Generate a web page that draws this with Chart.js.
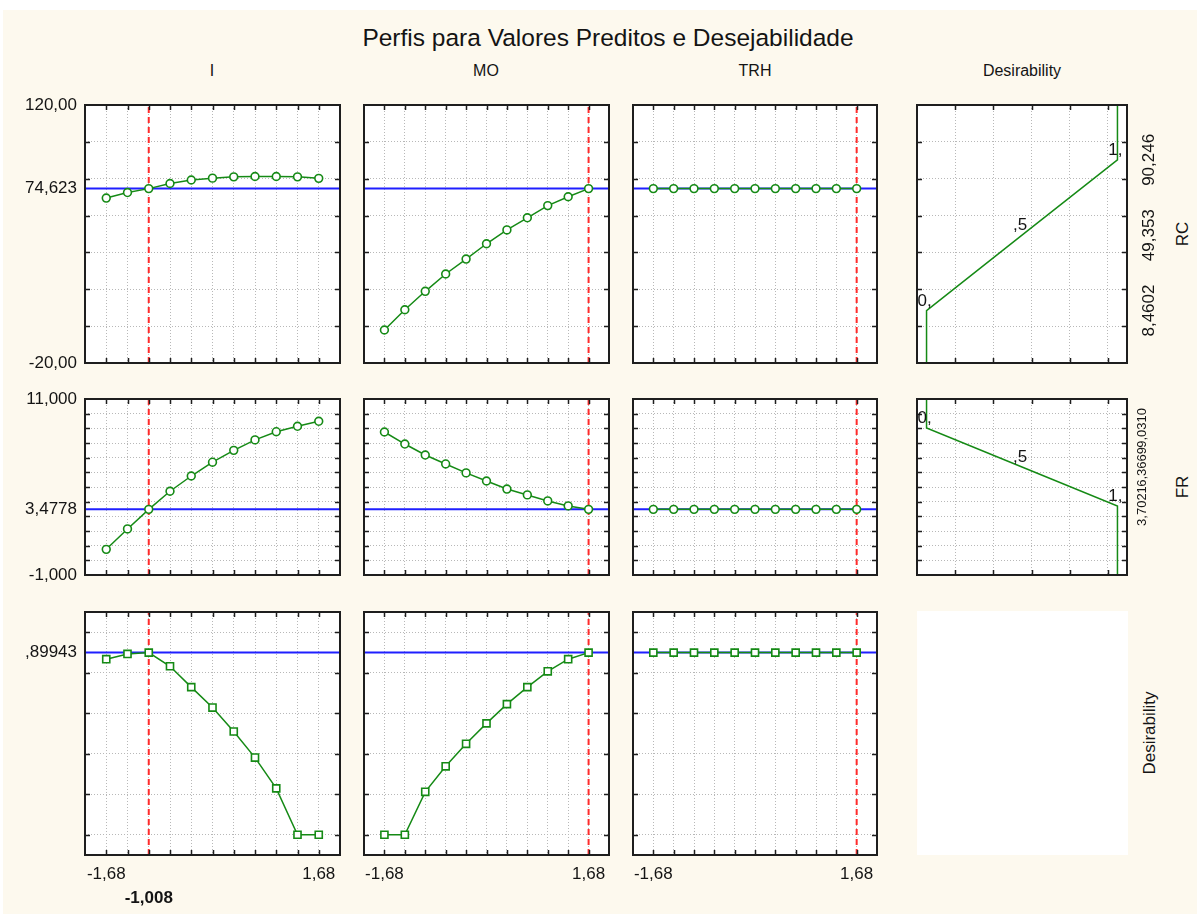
<!DOCTYPE html>
<html>
<head>
<meta charset="utf-8">
<script src="https://cdn.jsdelivr.net/npm/chart.js@4.4.0/dist/chart.umd.min.js"></script>
<style>
html, body { margin: 0; padding: 0; background: #fff; overflow: hidden; }
#wrap { position: relative; width: 1197px; height: 914px; overflow: hidden; }
#bg { position: absolute; left: 3px; top: 10px; right: 0; bottom: 0; background: #fdf9ee; }
.txt { position: absolute; font-family: "Liberation Sans", Arial, sans-serif; color: #141414;
       white-space: nowrap; transform: translate(-50%, -50%); }
.rot { transform: translate(-50%, -50%) rotate(-90deg); }
canvas { position: absolute; }
#blank { position: absolute; left: 917px; top: 611px; width: 211px; height: 244px; background: #fff; }
</style>
</head>
<body>
<div id="wrap">
  <div id="bg"></div>
  <div id="blank"></div>
  <div class="txt" style="left:608px;top:38px;font-size:24.5px;">Perfis para Valores Preditos e Desejabilidade</div>
  <div class="txt" style="left:212px;top:71px;font-size:16px;">I</div>
  <div class="txt" style="left:486px;top:71px;font-size:16px;">MO</div>
  <div class="txt" style="left:755px;top:71px;font-size:16px;">TRH</div>
  <div class="txt" style="left:1022px;top:71px;font-size:16px;">Desirability</div>
  <div class="txt rot" style="left:1183px;top:234px;font-size:17px;">RC</div>
  <div class="txt rot" style="left:1183px;top:487px;font-size:17px;">FR</div>
  <div class="txt rot" style="left:1150px;top:733px;font-size:17px;">Desirability</div>
</div>
<script>
// Factor levels (coded) and tick labels
const xLevels = [-1.68, -1.344, -1.008, -0.672, -0.336, 0, 0.336, 0.672, 1.008, 1.344, 1.68];
const xEndTicks = [-1.68, 1.68];
const xEndLabels = ['-1,68', '1,68'];
const currentX = [-1.008, 1.68, 1.68];   // I, MO, TRH
const currentXLabel = '-1,008';

// RC
const rcRange = [-20, 120];
const rcGrid = [0, 20, 40, 60, 80, 100];
const rcCurrent = 74.623;
const rcLeftTicks = [120, 74.623, -20];
const rcLeftLabels = ['120,00', '74,623', '-20,00'];
const rcI = [69.5, 72.5, 74.623, 77.4, 79.3, 80.3, 81.0, 81.2, 81.2, 81.0, 80.2];
const rcMO = [-2.1, 8.9, 18.9, 28.3, 36.4, 44.7, 52.2, 58.8, 65.4, 70.2, 74.623];
const rcTRH = [74.623, 74.623, 74.623, 74.623, 74.623, 74.623, 74.623, 74.623, 74.623, 74.623, 74.623];
const rcDesTicks = [8.4602, 49.353, 90.246];
const rcDesLabels = ['8,4602', '49,353', '90,246'];
const rcDesD = [0, 0, 0.5, 1, 1];
const rcDesV = [-20, 8.4602, 49.353, 90.246, 120];

// FR
const frRange = [-1, 11];
const frGrid = [0, 1, 2, 3, 4, 5, 6, 7, 8, 9, 10];
const frCurrent = 3.4778;
const frLeftTicks = [11, 3.4778, -1];
const frLeftLabels = ['11,000', '3,4778', '-1,000'];
const frI = [0.75, 2.14, 3.4778, 4.71, 5.75, 6.69, 7.50, 8.21, 8.77, 9.14, 9.48];
const frMO = [8.75, 7.93, 7.18, 6.57, 5.96, 5.41, 4.86, 4.46, 4.05, 3.71, 3.4778];
const frTRH = [3.4778, 3.4778, 3.4778, 3.4778, 3.4778, 3.4778, 3.4778, 3.4778, 3.4778, 3.4778, 3.4778];
const frDesTicks = [3.7021, 6.3669, 9.0310];
const frDesLabels = ['3,7021', '6,3669', '9,0310'];
const frDesD = [0, 0, 0.5, 1, 1];
const frDesV = [11, 9.0310, 6.3669, 3.7021, -1];

// Desirability
const desRange = [-0.1, 1.1];
const desGrid = [0, 0.2, 0.4, 0.6, 0.8, 1.0];
const desCurrent = 0.89943;
const desLeftTicks = [0.89943];
const desLeftLabels = [',89943'];
const desI = [0.867, 0.893, 0.89943, 0.832, 0.729, 0.628, 0.510, 0.381, 0.229, 0, 0];
const desMO = [0, 0, 0.212, 0.338, 0.449, 0.550, 0.645, 0.729, 0.807, 0.867, 0.89943];
const desTRH = [0.89943, 0.89943, 0.89943, 0.89943, 0.89943, 0.89943, 0.89943, 0.89943, 0.89943, 0.89943, 0.89943];

// desirability scale (x of last column)
const dRange = [-0.05, 1.05];
const dGrid = [0.15, 0.35, 0.55, 0.75, 0.95];
const dPointLabels = ['', '0,', ',5', '1,', ''];

// Layout
const COLS = [[85, 340], [364, 609], [633, 877], [917, 1127]];
const ROWS = [[105, 363], [399, 575], [612, 855]];
const PAD = 30;
const FONT = '"Liberation Sans", Arial, sans-serif';
const TXT = '#141414';
const GREEN = '#158a15';
const GRID = '#b8b8b8';
const wrap = document.getElementById('wrap');

const framePlugin = {
  id: 'frame',
  beforeDraw(chart) {
    const a = chart.chartArea, ctx = chart.ctx;
    ctx.save();
    ctx.fillStyle = '#fff';
    ctx.fillRect(a.left, a.top, a.right - a.left, a.bottom - a.top);
    ctx.restore();
  },
  afterDraw(chart) {
    const a = chart.chartArea, ctx = chart.ctx;
    const x = chart.scales.x, y = chart.scales.y;
    ctx.save();
    ctx.strokeStyle = '#1e1e1e';
    ctx.lineWidth = 1.5;
    ctx.beginPath();
    x.ticks.forEach(t => {
      const px = Math.round(x.getPixelForValue(t.value)) + 0.5;
      ctx.moveTo(px, a.top); ctx.lineTo(px, a.top + 5);
      ctx.moveTo(px, a.bottom); ctx.lineTo(px, a.bottom - 5);
    });
    y.ticks.forEach(t => {
      const py = Math.round(y.getPixelForValue(t.value)) + 0.5;
      ctx.moveTo(a.left, py); ctx.lineTo(a.left + 5, py);
      ctx.moveTo(a.right, py); ctx.lineTo(a.right - 5, py);
    });
    ctx.stroke();
    ctx.lineWidth = 2;
    ctx.strokeRect(a.left, a.top, a.right - a.left, a.bottom - a.top);
    // labels on the desirability curves
    const labs = chart.options.plugins.frame && chart.options.plugins.frame.labels;
    if (labs) {
      const pts = chart.getDatasetMeta(0).data;
      ctx.fillStyle = TXT;
      ctx.font = '17px ' + FONT;
      ctx.textAlign = 'center';
      ctx.textBaseline = 'bottom';
      labs.forEach((s, i) => { if (s) ctx.fillText(s, pts[i].x - 2, pts[i].y - 1); });
    }
    ctx.restore();
  }
};

function gridAxis(range, grid, pos) {
  return {
    type: 'linear', position: pos, min: range[0], max: range[1],
    afterBuildTicks: s => { s.ticks = grid.map(v => ({ value: v })); },
    ticks: { display: false },
    grid: { color: GRID, lineWidth: 1, drawTicks: false },
    border: { display: false, dash: [1, 2] },
    afterFit: s => { if (pos === 'bottom') s.height = 0; else s.width = 0; }
  };
}

function makePanel(r, c, o) {
  const [L, R] = COLS[c], [T, B] = ROWS[r];
  const leftW = o.leftTicks ? 78 : 0;
  const rightW = o.rightTicks ? 40 : 0;
  const bottomH = o.bottomTicks ? 52 : 0;
  const w = R - L + 2 * PAD + leftW + rightW;
  const h = B - T + 2 * PAD + bottomH;
  const cv = document.createElement('canvas');
  cv.width = w; cv.height = h;
  cv.style.width = w + 'px'; cv.style.height = h + 'px';
  cv.style.left = (L - PAD - leftW) + 'px';
  cv.style.top = (T - PAD) + 'px';
  wrap.appendChild(cv);

  const scales = { x: gridAxis(o.xRange, o.xGrid, 'bottom'), y: gridAxis(o.yRange, o.yGrid, 'left') };
  if (o.leftTicks) {
    scales.yl = {
      type: 'linear', position: 'left', min: o.yRange[0], max: o.yRange[1],
      afterBuildTicks: s => { s.ticks = o.leftTicks.map(v => ({ value: v })); },
      ticks: { autoSkip: false, padding: 8, color: TXT, font: { family: FONT, size: 17 },
               callback: (v, i) => o.leftLabels[i] },
      grid: { display: false, drawTicks: false }, border: { display: false },
      afterFit: s => { s.width = leftW; }
    };
  }
  if (o.rightTicks) {
    scales.yr = {
      type: 'linear', position: 'right', min: o.yRange[0], max: o.yRange[1],
      afterBuildTicks: s => { s.ticks = o.rightTicks.map(v => ({ value: v })); },
      ticks: { autoSkip: false, minRotation: 90, maxRotation: 90, crossAlign: 'center',
               padding: o.rightPad, color: TXT, font: { family: FONT, size: o.rightFont },
               callback: (v, i) => o.rightLabels[i] },
      grid: { display: false, drawTicks: false }, border: { display: false },
      afterFit: s => { s.width = rightW; }
    };
  }
  if (o.bottomTicks) {
    scales.xl = {
      type: 'linear', position: 'bottom', min: o.xRange[0], max: o.xRange[1],
      afterBuildTicks: s => { s.ticks = o.bottomTicks.map(v => ({ value: v })); },
      ticks: { autoSkip: false, maxRotation: 0, minRotation: 0, padding: 9, color: TXT,
               font: ctx => (ctx.tick && ctx.tick.value === o.boldTick)
                 ? { family: FONT, size: 17, weight: 'bold', lineHeight: 1.35 }
                 : { family: FONT, size: 17 },
               callback: (v, i) => o.bottomLabels[i] },
      grid: { display: false, drawTicks: false }, border: { display: false },
      afterFit: s => { s.height = bottomH; }
    };
  }

  new Chart(cv, {
    type: 'line',
    data: { datasets: o.datasets },
    options: {
      responsive: false, animation: false,
      layout: { padding: PAD },
      plugins: { legend: { display: false }, tooltip: { enabled: false }, frame: { labels: o.pointLabels } },
      scales
    },
    plugins: [framePlugin]
  });
}

function factorSets(series, xCur, yRange, yCur, square) {
  return [
    { data: xLevels.map((x, i) => ({ x, y: series[i] })), borderColor: GREEN, borderWidth: 1.5,
      pointStyle: square ? 'rect' : 'circle', pointRadius: square ? 5 : 3.9,
      pointBackgroundColor: '#fff', pointBorderColor: GREEN, pointBorderWidth: 1.6 },
    { data: [{ x: xCur, y: yRange[0] }, { x: xCur, y: yRange[1] }], borderColor: '#ff2b2b',
      borderWidth: 2, borderDash: [6, 4], pointRadius: 0 },
    { data: [{ x: -2.016, y: yCur }, { x: 2.016, y: yCur }], borderColor: '#1f1fff',
      borderWidth: 2, pointRadius: 0 }
  ];
}

const xRange = [-2.016, 2.016];
const rows = [
  { range: rcRange, grid: rcGrid, cur: rcCurrent, lt: rcLeftTicks, ll: rcLeftLabels, series: [rcI, rcMO, rcTRH] },
  { range: frRange, grid: frGrid, cur: frCurrent, lt: frLeftTicks, ll: frLeftLabels, series: [frI, frMO, frTRH] },
  { range: desRange, grid: desGrid, cur: desCurrent, lt: desLeftTicks, ll: desLeftLabels, series: [desI, desMO, desTRH] }
];

rows.forEach((row, r) => {
  for (let c = 0; c < 3; c++) {
    const o = {
      xRange, xGrid: xLevels, yRange: row.range, yGrid: row.grid,
      datasets: factorSets(row.series[c], currentX[c], row.range, row.cur, r === 2)
    };
    if (c === 0) { o.leftTicks = row.lt; o.leftLabels = row.ll; }
    if (r === 2) {
      o.bottomTicks = c === 0 ? [xEndTicks[0], currentX[0], xEndTicks[1]] : xEndTicks;
      o.bottomLabels = c === 0 ? [xEndLabels[0], ['', currentXLabel], xEndLabels[1]] : xEndLabels;
      o.boldTick = c === 0 ? currentX[0] : null;
    }
    makePanel(r, c, o);
  }
});

// desirability function panels
makePanel(0, 3, {
  xRange: dRange, xGrid: dGrid, yRange: rcRange, yGrid: rcGrid,
  rightTicks: rcDesTicks, rightLabels: rcDesLabels, rightPad: -4, rightFont: 17,
  pointLabels: dPointLabels,
  datasets: [{ data: rcDesD.map((d, i) => ({ x: d, y: rcDesV[i] })), borderColor: GREEN, borderWidth: 1.5, pointRadius: 0 }]
});
makePanel(1, 3, {
  xRange: dRange, xGrid: dGrid, yRange: frRange, yGrid: frGrid,
  rightTicks: frDesTicks, rightLabels: frDesLabels, rightPad: -4, rightFont: 13,
  pointLabels: dPointLabels,
  datasets: [{ data: frDesD.map((d, i) => ({ x: d, y: frDesV[i] })), borderColor: GREEN, borderWidth: 1.5, pointRadius: 0 }]
});
</script>
</body>
</html>
